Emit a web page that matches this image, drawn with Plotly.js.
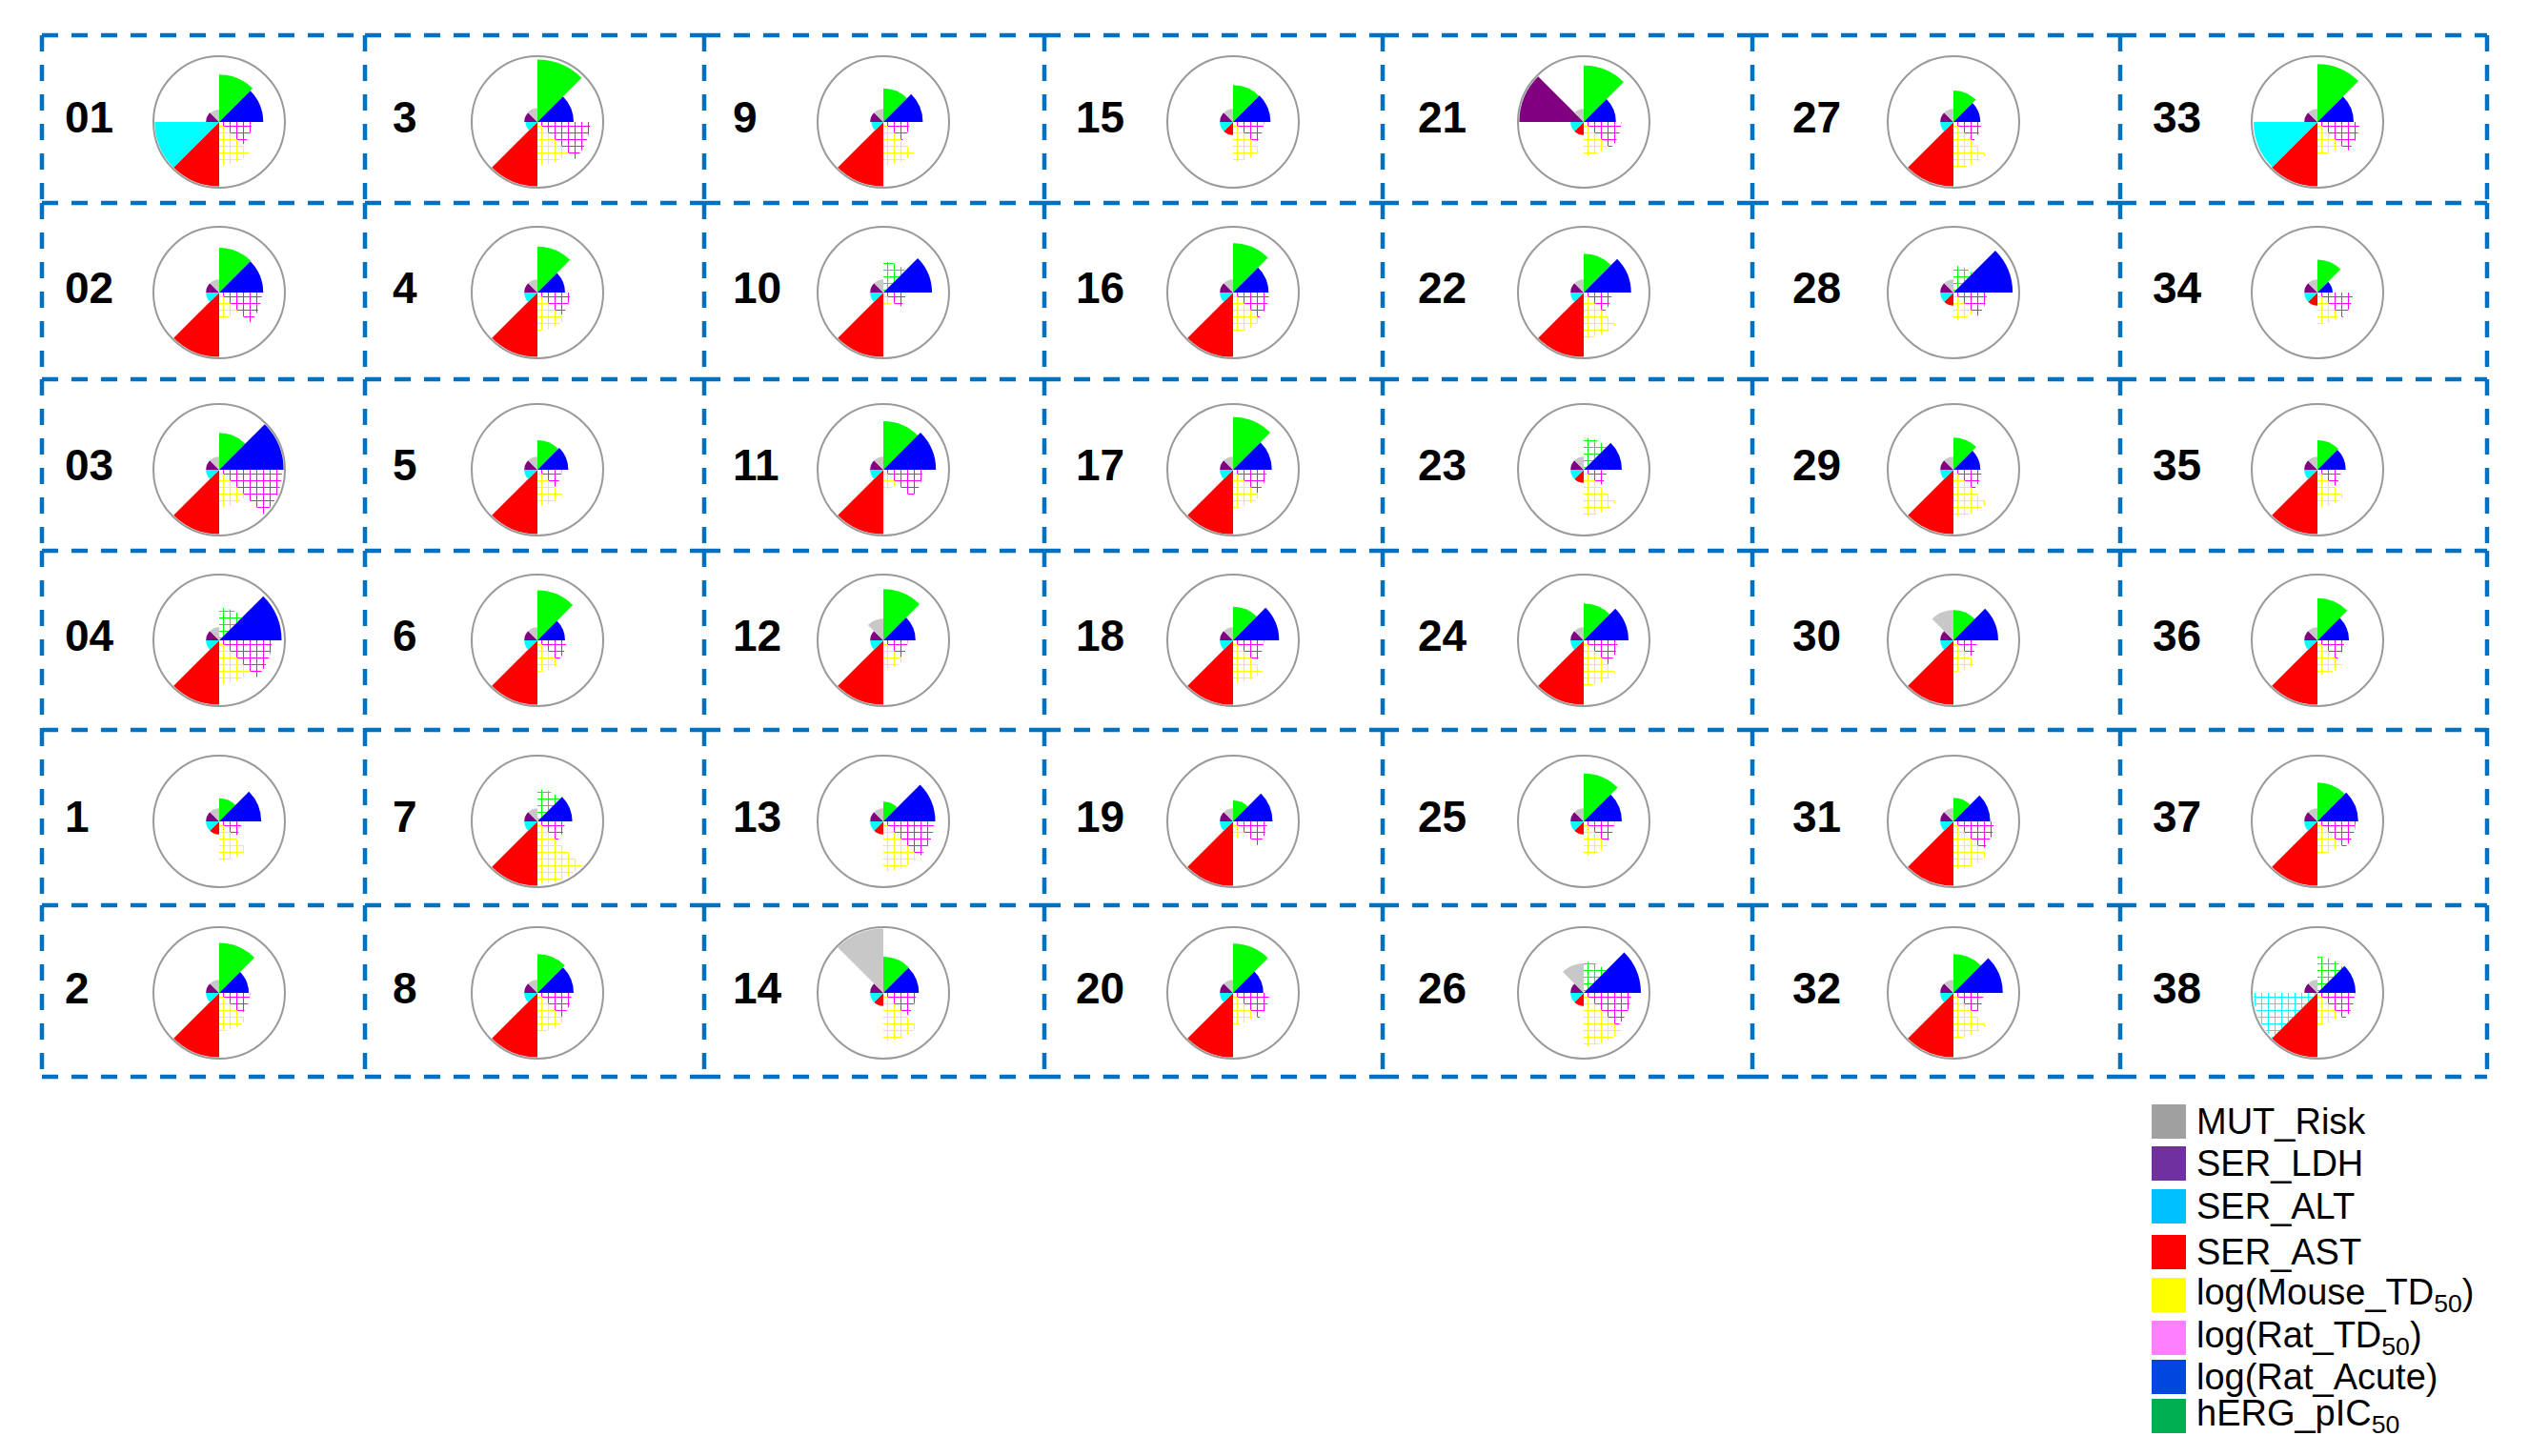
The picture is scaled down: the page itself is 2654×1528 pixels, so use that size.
<!DOCTYPE html>
<html>
<head>
<meta charset="utf-8">
<script src="https://cdn.plot.ly/plotly-3.0.1.min.js"></script>
<style>html,body{margin:0;padding:0;background:#fff;}#chart{width:2654px;height:1528px;}</style>
</head>
<body>
<div id="chart"></div>
<script>
// Compound labels, column-major order (6 per column)
const labels = ["01","02","03","04","1","2",
                "3","4","5","6","7","8",
                "9","10","11","12","13","14",
                "15","16","17","18","19","20",
                "21","22","23","24","25","26",
                "27","28","29","30","31","32",
                "33","34","35","36","37","38"];

const categories = ["hERG_pIC50","log(Rat_Acute)","log(Rat_TD50)","log(Mouse_TD50)","SER_AST","SER_ALT","SER_LDH","MUT_Risk"];

const hERG      = [.72,.68,.56,.50,.35,.76, .95,.70,.45,.76,.49,.59, .51,.47,.74,.78,.30,.55, .56,.75,.80,.51,.32,.75, .86,.59,.49,.56,.73,.48, .48,.41,.49,.46,.36,.59, .88,.50,.45,.64,.59,.55];
const ratAcute  = [.67,.67,.98,.95,.64,.45, .55,.42,.47,.42,.53,.55, .60,.74,.80,.49,.79,.54, .57,.54,.59,.70,.60,.46, .49,.72,.58,.68,.58,.87, .41,.90,.41,.68,.56,.75, .55,.23,.43,.48,.62,.58];
const ratTD50   = [.50,.65,.96,.80,.34,.47, .80,.50,.37,.44,.42,.52, .40,.34,.60,.37,.77,.50, .47,.55,.51,.47,.52,.55, .57,.43,.35,.52,.47,.72, .42,.51,.43,.36,.62,.46, .64,.54,.36,.41,.58,.57];
const mouseTD50 = [.66,.40,.57,.67,.60,.58, .66,.58,.55,.48,.95,.59, .66,.20,.30,.43,.76,.73, .60,.60,.58,.65,.25,.48, .52,.69,.70,.69,.52,.81, .70,.43,.71,.48,.73,.69, .50,.48,.57,.53,.50,.48];
const serAST    = [.98,.98,.98,.98,.20,.98, .98,.98,.98,.98,.98,.98, .98,.98,.98,.98,.20,.20, .20,.98,.98,.98,.98,.98, .20,.98,.20,.98,.20,.20, .98,.20,.98,.98,.98,.98, .98,.20,.98,.98,.98,.98];
const serALT    = [.98,.20,.20,.20,.20,.20, .18,.20,.20,.20,.20,.20, .18,.20,.20,.20,.20,.20, .20,.20,.20,.20,.20,.20, .20,.20,.20,.20,.20,.20, .20,.20,.20,.20,.20,.20, .97,.20,.20,.20,.20,.97];
const serLDH    = [.20,.20,.20,.20,.20,.20, .20,.20,.20,.20,.20,.20, .20,.20,.20,.20,.20,.20, .20,.20,.20,.20,.20,.20, .98,.20,.20,.20,.20,.20, .20,.20,.20,.20,.20,.20, .20,.20,.20,.20,.20,.20];
const mutRisk   = [.19,.20,.20,.20,.20,.20, .21,.20,.20,.20,.20,.20, .20,.20,.20,.33,.20,.98, .20,.20,.20,.20,.20,.20, .20,.20,.20,.20,.20,.45, .20,.20,.20,.46,.20,.20, .20,.20,.20,.20,.20,.20];

// predicted (hatched) values
const hergHatched = ["04","7","10","23","26","28","38"];
const altHatched  = ["38"];

const legendNames = ["MUT_Risk","SER_LDH","SER_ALT","SER_AST","log(Mouse_TD<sub>50</sub>)","log(Rat_TD<sub>50</sub>)","log(Rat_Acute)","hERG_pIC<sub>50</sub>"];
const legendColors = ["#a0a0a0","#7030a0","#00c0ff","#ff0000","#ffff00","#ff80ff","#0047e0","#00b050"];

// ---- layout geometry ----
const W = 2654, H = 1528;
const colX = [230, 564, 927, 1294, 1662, 2050, 2432];
const rowY = [128, 307, 493, 672, 862, 1042];
const labelX = [66, 410, 767, 1127, 1486, 1879, 2257];
const R = 69;
const gridX = [44, 383, 739, 1096, 1451, 1839, 2225, 2610];
const gridY = [37, 213, 398, 578, 766, 950, 1130];
const sectorColors = ["#00ff00","#0000ff","#ff00ff","#ffff00","#ff0000","#00ffff","#800080","#c8c8c8"];

const px = v => v / W;
const py = v => 1 - v / H;

const data = [];
const layout = {
  width: W, height: H,
  margin: {l:0, r:0, t:0, b:0},
  paper_bgcolor: "#ffffff",
  showlegend: false,
  shapes: [],
  annotations: []
};

labels.forEach((lab, i) => {
  const col = Math.floor(i / 6), row = i % 6;
  const key = i === 0 ? "polar" : "polar" + (i + 1);
  const cx = colX[col], cy = rowY[row];
  layout[key] = {
    domain: {x: [px(cx - R), px(cx + R)], y: [py(cy + R), py(cy - R)]},
    bgcolor: "rgba(0,0,0,0)",
    bargap: 0,
    radialaxis: {range: [0, 1], visible: false, showgrid: false},
    angularaxis: {
      type: "category", rotation: 67.5, direction: "clockwise",
      showticklabels: false, ticks: "", showgrid: false,
      showline: true, linecolor: "#9a9a9a", linewidth: 2
    }
  };
  const shapes = ["", "", "+", "+", "", "", "", ""];
  if (hergHatched.includes(lab)) shapes[0] = "+";
  if (altHatched.includes(lab)) shapes[5] = "+";
  data.push({
    type: "barpolar",
    subplot: key,
    theta: categories,
    r: [hERG[i], ratAcute[i], ratTD50[i], mouseTD50[i], serAST[i], serALT[i], serLDH[i], mutRisk[i]],
    marker: {
      color: sectorColors,
      line: {width: 0},
      pattern: {shape: shapes, fgcolor: sectorColors, bgcolor: "rgba(255,255,255,0)", size: 7, solidity: 0.28, fillmode: "replace"}
    },
    hoverinfo: "skip",
    showlegend: false
  });
  layout.annotations.push({
    xref: "paper", yref: "paper", x: px(labelX[col]), y: py(cy - 5),
    xanchor: "left", yanchor: "middle", showarrow: false,
    text: "<b>" + lab + "</b>",
    font: {family: "Liberation Sans, Arial, sans-serif", size: 46, color: "#000"}
  });
});

// dashed grid borders (per cell segment)
const lineStyle = {color: "#0070c0", width: 4.5, dash: "17px,14px"};
for (let r = 0; r < gridY.length; r++) {
  for (let c = 0; c < gridX.length - 1; c++) {
    layout.shapes.push({type: "line", xref: "paper", yref: "paper",
      x0: px(gridX[c]), x1: px(gridX[c + 1]), y0: py(gridY[r]), y1: py(gridY[r]), line: lineStyle});
  }
}
for (let c = 0; c < gridX.length; c++) {
  for (let r = 0; r < gridY.length - 1; r++) {
    layout.shapes.push({type: "line", xref: "paper", yref: "paper",
      x0: px(gridX[c]), x1: px(gridX[c]), y0: py(gridY[r]), y1: py(gridY[r + 1]), line: lineStyle});
  }
}

// legend
const legTop = [1159, 1203, 1248, 1296, 1341, 1386, 1427, 1468];
const sq = 36;
legendNames.forEach((nm, k) => {
  layout.shapes.push({type: "rect", xref: "paper", yref: "paper",
    x0: px(2258), x1: px(2258 + sq), y0: py(legTop[k] + sq), y1: py(legTop[k]),
    fillcolor: legendColors[k], line: {width: 0}});
  layout.annotations.push({
    xref: "paper", yref: "paper", x: px(2303), y: py(legTop[k] + sq / 2),
    xanchor: "left", yanchor: "middle", showarrow: false, text: nm,
    font: {family: "Liberation Sans, Arial, sans-serif", size: 38, color: "#000"}
  });
});

Plotly.newPlot("chart", data, layout, {staticPlot: true, displayModeBar: false});
</script>
</body>
</html>
